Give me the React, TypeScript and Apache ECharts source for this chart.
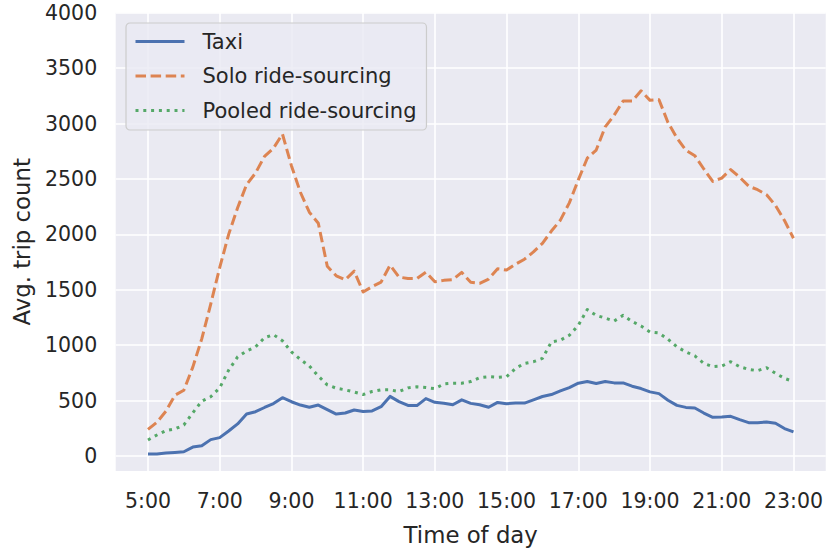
import React, { useEffect, useRef } from "react";
import * as echarts from "echarts";

const times: string[] = [
  "5:00", "5:15", "5:30", "5:45", "6:00", "6:15", "6:30", "6:45",
  "7:00", "7:15", "7:30", "7:45", "8:00", "8:15", "8:30", "8:45",
  "9:00", "9:15", "9:30", "9:45", "10:00", "10:15", "10:30", "10:45",
  "11:00", "11:15", "11:30", "11:45", "12:00", "12:15", "12:30", "12:45",
  "13:00", "13:15", "13:30", "13:45", "14:00", "14:15", "14:30", "14:45",
  "15:00", "15:15", "15:30", "15:45", "16:00", "16:15", "16:30", "16:45",
  "17:00", "17:15", "17:30", "17:45", "18:00", "18:15", "18:30", "18:45",
  "19:00", "19:15", "19:30", "19:45", "20:00", "20:15", "20:30", "20:45",
  "21:00", "21:15", "21:30", "21:45", "22:00", "22:15", "22:30", "22:45",
  "23:00",
];

const taxi: number[] = [
  18, 18, 27, 33, 39, 81, 93, 148,
  166, 226, 290, 380, 400, 438, 473, 526,
  490, 460, 440, 460, 419, 379, 388, 415,
  402, 407, 445, 538, 491, 456, 455, 518,
  485, 476, 463, 507, 475, 463, 440, 484,
  472, 478, 478, 507, 537, 555, 588, 618,
  657, 672, 654, 672, 660, 660, 630, 609,
  579, 563, 504, 457, 439, 433, 388, 349,
  352, 358, 328, 301, 301, 307, 296, 248,
  218,
];

const solo: number[] = [
  240, 305, 404, 548, 593, 802, 1057, 1371,
  1700, 2000, 2240, 2449, 2554, 2704, 2778, 2905,
  2620, 2380, 2200, 2100, 1712, 1626, 1590, 1668,
  1480, 1528, 1569, 1722, 1615, 1601, 1601, 1659,
  1573, 1585, 1591, 1657, 1567, 1558, 1597, 1690,
  1678, 1731, 1776, 1842, 1919, 2030, 2128, 2284,
  2492, 2687, 2761, 2970, 3075, 3203, 3203, 3295,
  3209, 3215, 3010, 2870, 2760, 2710, 2590, 2478,
  2508, 2585, 2515, 2435, 2403, 2358, 2260, 2125,
  1965,
];

const pooled: number[] = [
  145, 190, 229, 244, 280, 390, 495, 535,
  615, 775, 895, 948, 985, 1068, 1095, 1040,
  940, 872, 812, 722, 642, 612, 597, 578,
  555, 582, 597, 597, 582, 615, 625, 618,
  608, 650, 657, 657, 672, 707, 716, 710,
  716, 791, 836, 851, 881, 1030, 1045, 1090,
  1179, 1322, 1269, 1245, 1218, 1269, 1215, 1173,
  1119, 1110, 1054, 985, 940, 904, 836, 806,
  812, 851, 806, 782, 770, 797, 746, 701,
  672,
];

const xTicks: number[] = [5, 7, 9, 11, 13, 15, 17, 19, 21, 23];
const yTicks: number[] = [0, 500, 1000, 1500, 2000, 2500, 3000, 3500, 4000];
const seriesNames: string[] = ["Taxi", "Solo ride-sourcing", "Pooled ride-sourcing"];

const toHour = (s: string): number => {
  const [h, m] = s.split(":");
  return Number(h) + Number(m) / 60;
};

const pairs = (vals: number[]) => times.map((t, i) => [toHour(t), vals[i]]);

const FONT = "DejaVu Sans";
const TEXT = "#262626";

export default function App() {
  const ref = useRef<HTMLDivElement>(null);
  useEffect(() => {
    if (!ref.current) return;
    const chart = echarts.init(ref.current, undefined, { renderer: "svg" });
    const lineW = 3;
    chart.setOption({
      animation: false,
      backgroundColor: "#ffffff",
      textStyle: { fontFamily: FONT, color: TEXT },
      grid: {
        left: 115.7,
        right: 0,
        top: 12.7,
        bottom: 78.3,
        show: true,
        backgroundColor: "#EAEAF2",
        borderWidth: 0,
        containLabel: false,
      },
      legend: {
        orient: "vertical",
        left: 126,
        top: 23,
        data: seriesNames,
        itemWidth: 49,
        itemHeight: 14,
        itemGap: 13.5,
        padding: [8, 10, 9, 8],
        backgroundColor: "rgba(234,234,242,0.8)",
        borderColor: "#CCCCCC",
        borderWidth: 1.2,
        borderRadius: 4,
        itemStyle: { opacity: 0 },
        lineStyle: { width: lineW },
        textStyle: {
          fontFamily: FONT,
          fontSize: 21,
          color: TEXT,
          padding: [0, 0, 0, 13],
        },
      },
      xAxis: {
        type: "value",
        min: 4.1,
        max: 23.9,
        name: "Time of day",
        nameLocation: "middle",
        nameGap: 52,
        nameTextStyle: { fontFamily: FONT, fontSize: 22.8, color: TEXT },
        axisLine: { show: false },
        axisTick: { show: false, customValues: xTicks },
        axisLabel: {
          customValues: xTicks,
          formatter: (v: number) => `${v}:00`,
          fontFamily: FONT,
          fontSize: 20.5,
          color: TEXT,
          margin: 19.5,
        },
        splitLine: { show: true, lineStyle: { color: "#ffffff", width: 1.6 } },
      },
      yAxis: {
        type: "value",
        min: -135,
        max: 4000,
        name: "Avg. trip count",
        nameLocation: "middle",
        nameGap: 82,
        nameTextStyle: {
          fontFamily: FONT,
          fontSize: 22.8,
          color: TEXT,
        },
        axisLine: { show: false },
        axisTick: { show: false, customValues: yTicks },
        axisLabel: {
          customValues: yTicks,
          formatter: (v: number) => String(v),
          fontFamily: FONT,
          fontSize: 20.5,
          color: TEXT,
          margin: 18.5,
        },
        splitLine: { show: true, lineStyle: { color: "#ffffff", width: 1.6 } },
      },
      series: [
        {
          name: seriesNames[0],
          type: "line",
          data: pairs(taxi),
          showSymbol: false,
          symbol: "none",
          color: "#4C72B0",
          lineStyle: { width: lineW, color: "#4C72B0", cap: "butt", join: "round" },
          z: 3,
        },
        {
          name: seriesNames[1],
          type: "line",
          data: pairs(solo),
          showSymbol: false,
          symbol: "none",
          color: "#DD8452",
          lineStyle: { width: lineW, color: "#DD8452", type: [10.5, 4.6], cap: "butt", join: "round" },
          z: 3,
        },
        {
          name: seriesNames[2],
          type: "line",
          data: pairs(pooled),
          showSymbol: false,
          symbol: "none",
          color: "#55A868",
          lineStyle: { width: lineW, color: "#55A868", type: [3, 4.8], cap: "butt", join: "round" },
          z: 3,
        },
      ],
    });
    return () => chart.dispose();
  }, []);
  return (
    <div
      ref={ref}
      style={{ position: "absolute", left: 0, top: 0, width: 826, height: 551 }}
    />
  );
}
